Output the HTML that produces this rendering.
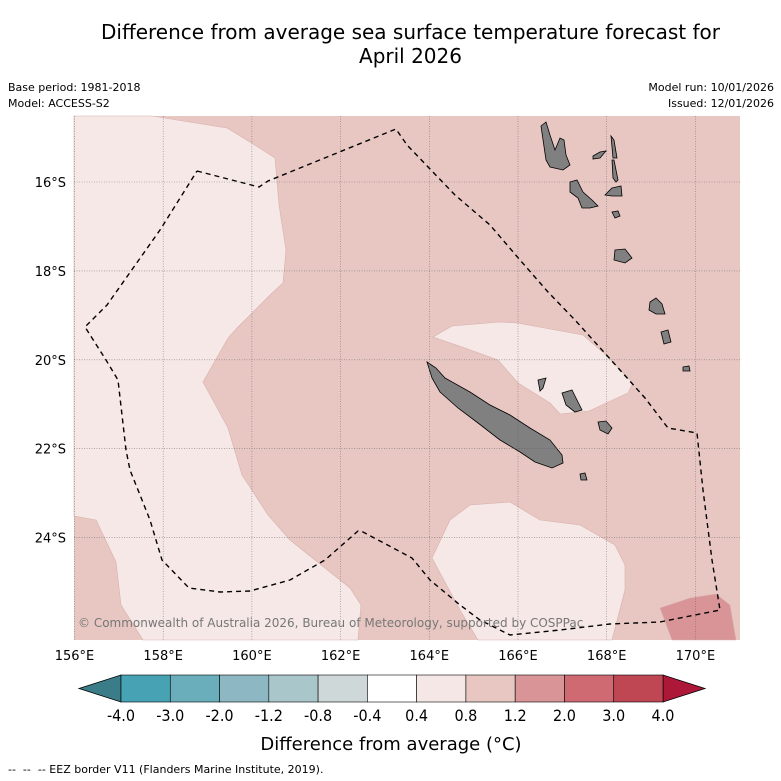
<!DOCTYPE html>
<html><head><meta charset="utf-8">
<style>
body{margin:0;background:#fff;font-family:"DejaVu Sans","Liberation Sans",sans-serif;}
#wrap{position:relative;width:781px;height:781px;overflow:hidden;}
.t{position:absolute;white-space:nowrap;}
</style></head>
<body>
<div id="wrap">
<div class="t" style="left:0;width:821px;text-align:center;top:20px;font-size:20px;line-height:24px;">Difference from average sea surface temperature forecast for<br>April 2026</div>
<div class="t" style="left:8px;top:80px;font-size:11px;line-height:16px;">Base period: 1981-2018<br>Model: ACCESS-S2</div>
<div class="t" style="right:7px;top:80px;font-size:11px;line-height:16px;text-align:right;">Model run: 10/01/2026<br>Issued: 12/01/2026</div>
<svg id="svg" width="781" height="781" style="position:absolute;left:0;top:0"></svg>
<div class="t" style="left:8px;top:763px;font-size:11px;">--&nbsp;&nbsp;--&nbsp;&nbsp;-- EEZ border V11 (Flanders Marine Institute, 2019).</div>
</div>
<script>
const lonTicks=[156,158,160,162,164,166,168,170];
const latTicks=[16,18,20,22,24];
const cbBounds=[-4.0,-3.0,-2.0,-1.2,-0.8,-0.4,0.4,0.8,1.2,2.0,3.0,4.0];
const cbColors=["#47a3b3","#6aaebb","#8db8c3","#a9c6ca","#cfd8d9","#ffffff","#f5e7e6","#e8c7c3","#d99497","#cf6a72","#bf4653"];
const cbUnder="#3a7c87", cbOver="#ad1838";
const NS="http://www.w3.org/2000/svg";
const svg=document.getElementById('svg');
const X0=74,X1=740,Y0=116,Y1=640;
function lx(lon){return 74.5+(lon-156)*44.35;}
function ly(lat){return 182+(lat-16)*44.45;}
function mk(tag,attrs,parent){const e=document.createElementNS(NS,tag);for(const k in attrs)e.setAttribute(k,attrs[k]);(parent||svg).appendChild(e);return e;}
let e=mk('rect',{x:X0,y:Y0,width:X1-X0,height:Y1-Y0,fill:'#e8c7c3'});


const light="#f5e8e6";
const polys=[
 ["light-region-west",light,"74,116 152,116 227,128 250,142 275,158 279,205 286,250 283,283 270,295 238,327 228,338 203,382 228,428 242,475 268,515 290,540 350,588 361,605 358,640 143,640 121,605 116,562 96,520 74,516"],
 ["light-region-central",light,"433,337 452,326 500,322 517,323 583,335 606,355 633,383 628,393 589,411 560,414 550,403 518,383 498,360 465,348"],
 ["light-region-south",light,"432,558 450,520 470,505 510,502 540,520 580,525 615,545 625,565 625,590 612,640 478,640 460,610"],
 ["warm-region-southeast","#d99497","660,608 690,598 716,594 730,605 736,640 672,640"]
];
polys.forEach(p=>{const el=mk('polygon',{points:p[2],fill:p[1],stroke:'#d8b0ac','stroke-width':0.6});

});
const islands=[
 ["new-caledonia","427,362 436,368 445,378 470,392 490,405 510,415 530,428 550,440 562,455 563,463 552,468 535,462 520,452 500,440 478,423 458,408 440,392 432,378"],
 ["espiritu-santo","541,126 546,122 550,135 555,150 560,138 564,140 566,155 570,165 563,170 550,167 546,160"],
 ["malakula","570,182 577,180 583,192 592,200 598,206 590,208 582,208 578,198 570,192"],
 ["efate","612,188 621,186 622,196 612,196 605,195"],
 ["tanna","615,250 625,249 632,258 625,263 614,260"],
 ["maewo","611,136 614,140 617,158 613,158"],
 ["pentecost","612,160 614,160 618,180 616,182 613,178"],
 ["ambae","593,156 600,152 606,151 600,158 593,159"],
 ["epi","612,212 618,211 620,216 615,218"],
 ["lifou","562,393 572,390 577,400 582,410 575,412 566,405"],
 ["mare","598,422 606,421 612,428 608,434 600,430"],
 ["ouvea","538,380 546,378 543,388 540,391"],
 ["matthew-hunter","650,302 656,298 662,304 665,314 656,314 649,310"],
 ["hunter","661,332 668,330 671,342 664,344"],
 ["walpole","683,367 689,366 690,371 683,371"],
 ["isle-of-pines","580,474 585,473 587,480 581,480"]
];
islands.forEach(p=>{const el=mk('polygon',{points:p[1],fill:'#808080',stroke:'#000','stroke-width':0.8});

});
lonTicks.forEach(l=>{const x=lx(l);const g=mk('line',{x1:x,x2:x,y1:Y0,y2:Y1,stroke:'#555','stroke-width':0.6,'stroke-dasharray':'1,1.5','opacity':0.7});


const t=mk('text',{x:x,y:660,'font-size':13,'text-anchor':'middle','font-family':'DejaVu Sans, sans-serif'});t.textContent=l+'°E';

});
latTicks.forEach(l=>{const y=ly(l);const g=mk('line',{x1:X0,x2:X1,y1:y,y2:y,stroke:'#555','stroke-width':0.6,'stroke-dasharray':'1,1.5','opacity':0.7});


const t=mk('text',{x:66,y:y+5,'font-size':13,'text-anchor':'end','font-family':'DejaVu Sans, sans-serif'});t.textContent=l+'°S';

});
const eez=mk('polyline',{points:"197,171 259,187 268,181 396,129 407,145 455,195 490,225 520,260 548,292 575,320 620,370 645,398 668,428 697,433 703,490 712,560 720,610 660,622 610,624 560,630 510,635 480,620 460,605 430,580 412,558 363,532 358,531 325,560 290,580 250,591 220,592 189,588 162,560 150,520 130,470 126,450 118,380 106,360 85,327 107,305 160,230 197,171",fill:'none',stroke:'#000','stroke-width':1.4,'stroke-dasharray':'5,4'});


const cp=mk('text',{x:78,y:627,'font-size':12,fill:'#777','font-family':'DejaVu Sans, sans-serif'});cp.textContent='© Commonwealth of Australia 2026, Bureau of Meteorology, supported by COSPPac';


const CBX0=121,CBX1=663,CBY0=675,CBY1=702,n=cbColors.length,w=(CBX1-CBX0)/n;
const u=mk('polygon',{points:`${CBX0},${CBY0} ${CBX0},${CBY1} 79,${(CBY0+CBY1)/2}`,fill:cbUnder,stroke:'#000','stroke-width':0.8});


const o=mk('polygon',{points:`${CBX1},${CBY0} ${CBX1},${CBY1} 705,${(CBY0+CBY1)/2}`,fill:cbOver,stroke:'#000','stroke-width':0.8});


cbColors.forEach((c,i)=>{const r=mk('rect',{x:CBX0+i*w,y:CBY0,width:w,height:CBY1-CBY0,fill:c,stroke:'#000','stroke-width':0.6});

});
cbBounds.forEach((b,i)=>{const t=mk('text',{x:CBX0+i*w,y:721,'font-size':16,'text-anchor':'middle','font-family':'DejaVu Sans, sans-serif','transform':`translate(${CBX0+i*w},0) scale(0.9,1) translate(${-(CBX0+i*w)},0)`});t.textContent=b.toFixed(1);

});
const ct=mk('text',{x:391,y:750,'font-size':18,'text-anchor':'middle','font-family':'DejaVu Sans, sans-serif'});ct.textContent='Difference from average (°C)';


</script>
</body></html>
